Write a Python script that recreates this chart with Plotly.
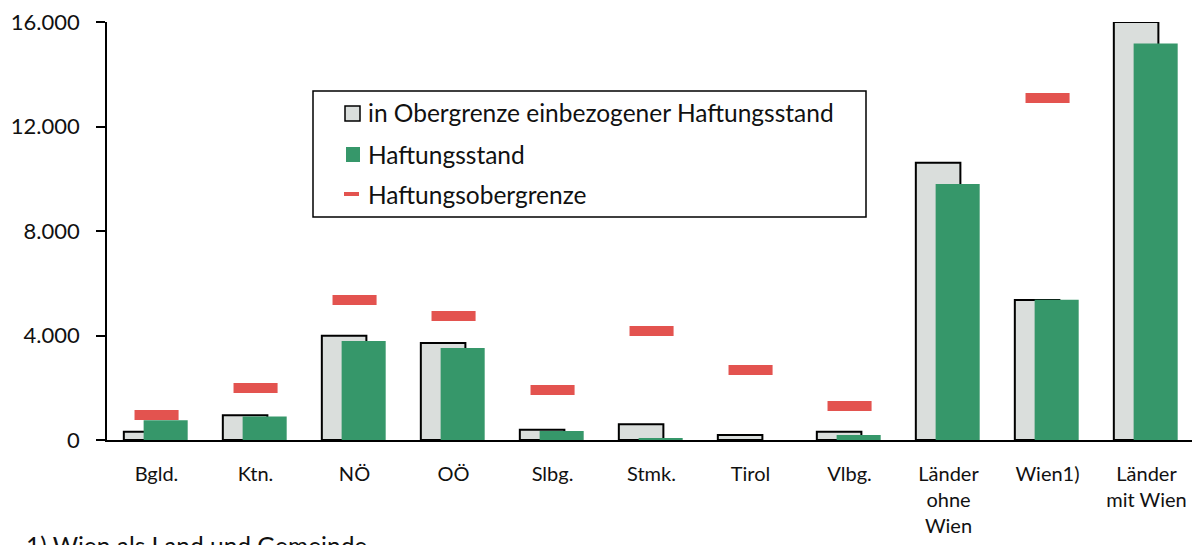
import plotly.graph_objects as go

categories = ["Bgld.", "Ktn.", "NÖ", "OÖ", "Slbg.", "Stmk.", "Tirol", "Vlbg.",
              "Länder<br>ohne<br>Wien", "Wien1)", "Länder<br>mit Wien"]
einbezogen = [320, 945, 3990, 3710, 395, 600, 190, 320, 10610, 5360, 16000]
haftungsstand = [755, 895, 3790, 3520, 345, 75, 0, 190, 9800, 5370, 15180]
obergrenze = [960, 1990, 5360, 4750, 1915, 4170, 2680, 1300, None, 13090, None]
y_ticks = [0, 4000, 8000, 12000, 16000]
legend_labels = ["in Obergrenze einbezogener Haftungsstand", "Haftungsstand", "Haftungsobergrenze"]
footnote = "1) Wien als Land und Gemeinde"

GRAY = "#DADEDC"
GREEN = "#36976A"
RED = "#E3534F"
FONT = "Lato"
TXT = "#111111"

# page offset of the figure (default body margin)
OFF = 8
W, H = 1200 - OFF, 545 - OFF
PLOT_L, PLOT_R, PLOT_T, PLOT_B = 107, 1196, 22, 440  # page pixels
L, T = PLOT_L - OFF, PLOT_T - OFF
R = W - (PLOT_R - OFF)
B = H - (PLOT_B - OFF)
PW, PH = W - L - R, H - T - B
YMAX = 16000

def px_x(px):
    return (px - PLOT_L) / PW

def px_y(py):
    return (PLOT_B - py) / PH

red_thick = 10 / PH * YMAX
red_base = [None if v is None else v - red_thick / 2 for v in obergrenze]
red_len = [None if v is None else red_thick for v in obergrenze]

fig = go.Figure()
fig.add_trace(go.Bar(x=categories, y=einbezogen, name=legend_labels[0],
                     offset=-0.33, width=0.45,
                     marker=dict(color=GRAY, line=dict(color="black", width=2)),
                     showlegend=False))
fig.add_trace(go.Bar(x=categories, y=haftungsstand, name=legend_labels[1],
                     offset=-0.13, width=0.445,
                     marker=dict(color=GREEN, line=dict(width=0)),
                     showlegend=False))
fig.add_trace(go.Bar(x=categories, y=red_len, base=red_base, name=legend_labels[2],
                     offset=-0.222, width=0.445,
                     marker=dict(color=RED, line=dict(width=0)),
                     showlegend=False))

shapes = []
annotations = []
shapes.append(dict(type="rect", xref="paper", yref="paper",
                   x0=px_x(313), x1=px_x(866), y0=px_y(217), y1=px_y(91),
                   line=dict(color="black", width=1.5), fillcolor="white", layer="above"))
shapes.append(dict(type="rect", xref="paper", yref="paper",
                   x0=px_x(345), x1=px_x(360), y0=px_y(121), y1=px_y(106),
                   line=dict(color="black", width=1.5), fillcolor=GRAY, layer="above"))
shapes.append(dict(type="rect", xref="paper", yref="paper",
                   x0=px_x(346), x1=px_x(360), y0=px_y(162), y1=px_y(147),
                   line=dict(width=0), fillcolor=GREEN, layer="above"))
shapes.append(dict(type="rect", xref="paper", yref="paper",
                   x0=px_x(344), x1=px_x(359), y0=px_y(196), y1=px_y(192),
                   line=dict(width=0), fillcolor=RED, layer="above"))
for lab, cy in zip(legend_labels, [113, 154, 194]):
    annotations.append(dict(text=lab, xref="paper", yref="paper",
                            x=px_x(366), y=px_y(cy), xanchor="left", yanchor="middle",
                            showarrow=False, font=dict(family=FONT, size=24.5, color=TXT)))
annotations.append(dict(text=footnote, xref="paper", yref="paper",
                        x=px_x(24), y=px_y(529), xanchor="left", yanchor="top",
                        showarrow=False, font=dict(family=FONT, size=24.5, color=TXT)))

fig.update_layout(
    width=W, height=H,
    margin=dict(l=L, r=R, t=T, b=B, pad=0, autoexpand=False),
    paper_bgcolor="white", plot_bgcolor="white",
    barmode="overlay",
    separators=",.",
    font=dict(family=FONT, color=TXT),
    shapes=shapes, annotations=annotations,
    showlegend=False,
)
fig.update_xaxes(showline=True, linecolor="black", linewidth=2, ticks="",
                 showgrid=False, tickfont=dict(family=FONT, size=20, color=TXT),
                 ticklabelstandoff=15, range=[-0.5, len(categories) - 0.5],
                 automargin=False)
fig.update_yaxes(range=[0, YMAX], tickvals=y_ticks, tickformat=",.0f",
                 showline=True, linecolor="black", linewidth=1.5,
                 ticks="outside", ticklen=9, tickwidth=1.5, tickcolor="black",
                 showgrid=False, zeroline=False, ticklabeloverflow="allow",
                 automargin=False,
                 tickfont=dict(family=FONT, size=22, color=TXT), ticklabelstandoff=12)

fig.write_html("out.html")
